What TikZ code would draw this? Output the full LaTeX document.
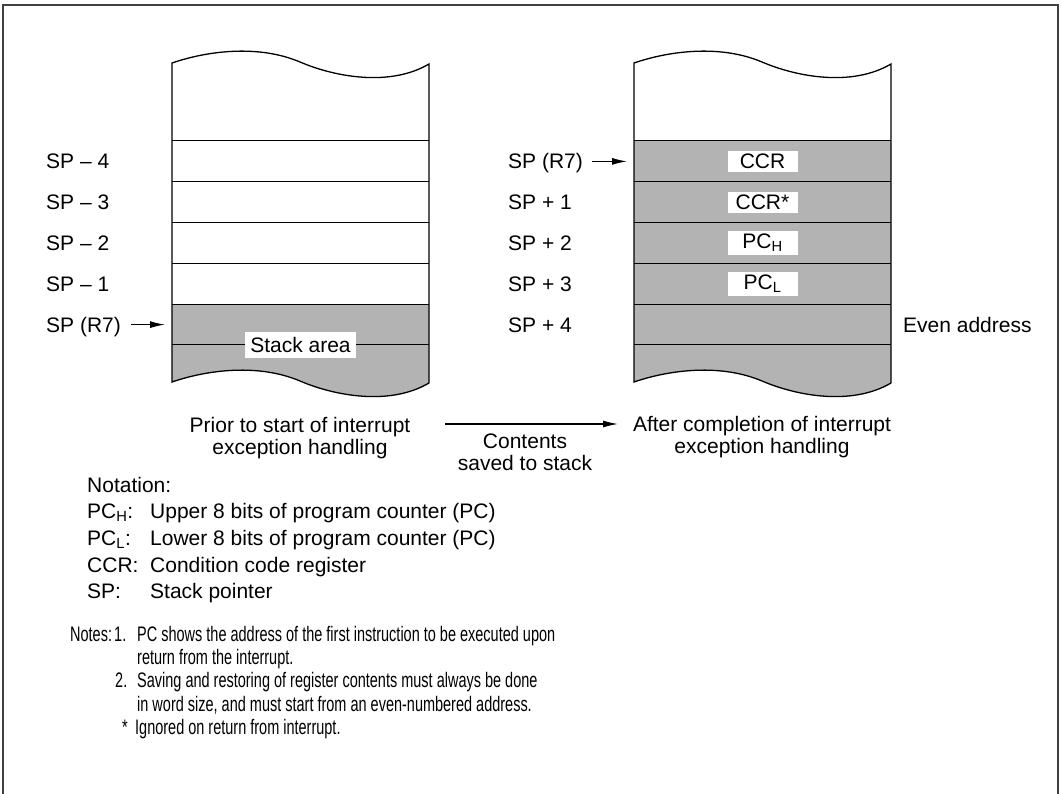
\documentclass[tikz,border=0pt]{standalone}
\usepackage{fontspec}
\setmainfont{Liberation Sans}
\newfontfamily\narrowfont[FakeStretch=0.69]{Liberation Sans}
\usetikzlibrary{arrows.meta}
\definecolor{stackgray}{RGB}{179,179,179}
\definecolor{framegray}{RGB}{64,64,64}
\tikzset{
  lbl/.style={inner sep=0pt, text height=15pt, text depth=0pt, anchor=west},
  txt/.style={inner sep=0pt, anchor=base west},
  note/.style={txt, font=\fontsize{21}{22}\selectfont\narrowfont},
  regbox/.style={fill=white, inner xsep=0pt, inner ysep=3pt, minimum width=70pt},
  ptr/.style={-{Latex[length=15pt,width=7pt]}, line width=1.2pt},
  stackline/.style={line width=1.3pt},
  rowline/.style={line width=1pt}
}

\begin{document}
\begin{tikzpicture}[x=1pt, y=-1pt, font=\fontsize{21}{22}\selectfont]
\useasboundingbox (0,0) rectangle (1061,794);
\draw[framegray, line width=2pt] (3,800) -- (3,5) -- (1058,5) -- (1058,800);

% stack before the interrupt
\begin{scope}[shift={(172,63)}]
  \fill[stackgray] (0,241.2) -- (257,241.2) -- (257,320) .. controls (218,343) and (163,333) .. (128,318) .. controls (88,301) and (38,306) .. (0,319) -- cycle;
  \foreach \r in {0,...,5}
    \draw[rowline] (0,{78+40.8*\r}) -- (257,{78+40.8*\r});
  \draw[stackline] (0,0) .. controls (38,-13) and (88,-18) .. (128,-1) .. controls (163,14) and (218,24) .. (257,1) -- (257,320) .. controls (218,343) and (163,333) .. (128,318) .. controls (88,301) and (38,306) .. (0,319) -- cycle;
\end{scope}

% stack after the interrupt
\begin{scope}[shift={(634,63)}]
  \fill[stackgray] (0,78) -- (257,78) -- (257,320) .. controls (218,343) and (163,333) .. (128,318) .. controls (88,301) and (38,306) .. (0,319) -- cycle;
  \foreach \r in {0,...,5}
    \draw[rowline] (0,{78+40.8*\r}) -- (257,{78+40.8*\r});
  \draw[stackline] (0,0) .. controls (38,-13) and (88,-18) .. (128,-1) .. controls (163,14) and (218,24) .. (257,1) -- (257,320) .. controls (218,343) and (163,333) .. (128,318) .. controls (88,301) and (38,306) .. (0,319) -- cycle;
\end{scope}

\node[fill=white, inner xsep=5.5pt, inner ysep=5pt] (area) at (300.5,345) {Stack area};

\foreach \n/\y in {4/161.4, 3/202.2, 2/243, 1/283.8}
  \node[lbl] (bm\n) at (46,\y) {SP \textendash{} \n};
\node[lbl] (bsp) at (46,324.6) {SP (R7)};
\coordinate (bspT) at (165,324.6);
\draw[ptr, shorten <=10pt] (bsp) -- (bspT);

\node[lbl] (asp) at (508,161.4) {SP (R7)};
\foreach \n/\y in {1/202.2, 2/243, 3/283.8, 4/324.6}
  \node[lbl] (ap\n) at (508,\y) {SP + \n};
\coordinate (aspT) at (627,161.4);
\draw[ptr, shorten <=9pt] (asp) -- (aspT);

\node[regbox] (ccr) at (762.5,161.4) {CCR};
\node[regbox] (ccrx) at (762.5,202.2) {CCR*};
\node[regbox] (pch) at (762.5,243) {PC\textsubscript{H}};
\node[regbox] (pcl) at (762.5,283.8) {PC\textsubscript{L}};
\node[lbl] (even) at (903,324.6) {Even address};

\node[anchor=north, align=center, inner sep=0pt] (before) at (300,417) {Prior to start of interrupt\\exception handling};
\node[anchor=north, align=center, inner sep=0pt] (after) at (762,416) {After completion of interrupt\\exception handling};
\node[anchor=north, align=center, inner sep=0pt] (saved) at (525,434) {Contents\\saved to stack};
\coordinate (pushS) at (445,424);
\coordinate (pushE) at (618,424);
\draw[ptr] (pushS) -- (pushE);

\node[txt] (notat) at (87,492.5) {Notation:};
\node[txt] (kpch) at (87,518.5) {PC\textsubscript{H}:};
\node[txt] (dpch) at (150,518.5) {Upper 8 bits of program counter (PC)};
\node[txt] (kpcl) at (87,545.5) {PC\textsubscript{L}:};
\node[txt] (dpcl) at (150,545.5) {Lower 8 bits of program counter (PC)};
\node[txt] (kccr) at (87,572.5) {CCR:};
\node[txt] (dccr) at (150,572.5) {Condition code register};
\node[txt] (ksp) at (87,598.5) {SP:};
\node[txt] (dsp) at (150,598.5) {Stack pointer};

\node[note] (notes) at (70,641) {Notes:};
\node[note] (n1) at (114,641) {1.};
\node[note] (n1a) at (137,641) {PC shows the address of the first instruction to be executed upon};
\node[note] (n1b) at (137,664.4) {return from the interrupt.};
\node[note] (n2) at (115,687.8) {2.};
\node[note] (n2a) at (137,687.8) {Saving and restoring of register contents must always be done};
\node[note] (n2b) at (137,711.2) {in word size, and must start from an even-numbered address.};
\node[note] (nst) at (122,734.6) {*};
\node[note] (nsta) at (135,734.6) {Ignored on return from interrupt.};
\end{tikzpicture}
\end{document}
